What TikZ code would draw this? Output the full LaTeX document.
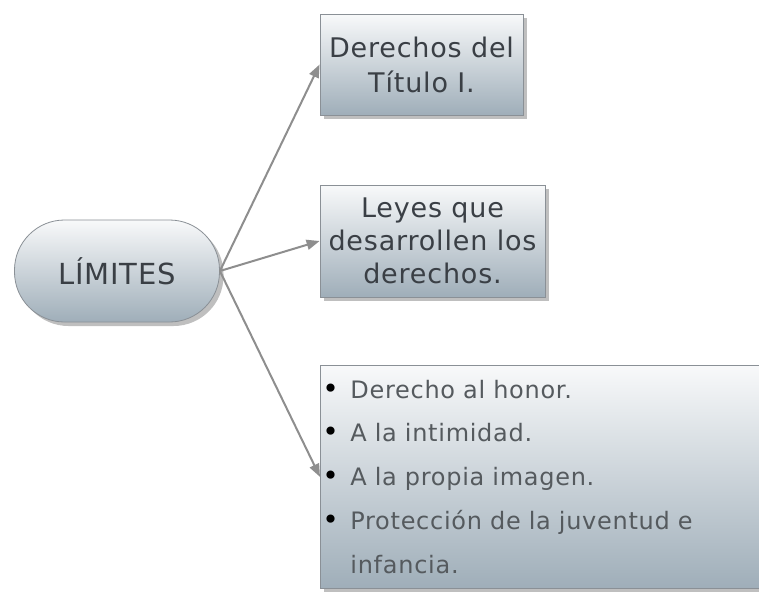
\documentclass[tikz,border=0pt]{standalone}
\usepackage{fontspec}
\setmainfont{DejaVu Sans}[LetterSpace=3]
\usetikzlibrary{shadows,arrows.meta}

\definecolor{boxtop}{HTML}{F8F9FA}
\definecolor{boxbot}{HTML}{9FAEB9}
\definecolor{edge}{HTML}{8A9096}
\definecolor{ink}{HTML}{3A3F45}
\definecolor{listink}{HTML}{555A5E}
\definecolor{linkgray}{HTML}{8E8E8E}

\tikzset{
  card/.style={draw=edge, line width=0.8pt, top color=boxtop, bottom color=boxbot,
    drop shadow={shadow xshift=4pt, shadow yshift=-4pt, fill=black!50, opacity=0.5},
    text=ink, align=center, inner sep=2pt},
  link/.style={draw=linkgray, line width=2pt, -{Triangle[length=13pt,width=10pt]}},
}
\newcommand{\dotmark}{\textcolor{black}{\fontsize{28}{27}\selectfont\textbullet}}

\begin{document}
\begin{tikzpicture}[x=1pt, y=-1pt]
% page
    \fill[white] (0,0) rectangle (759,592);
    \useasboundingbox (0,0) rectangle (759,592);
% central idea
    \node[card, rounded corners=50pt, minimum width=205pt, minimum height=102pt,
          font=\fontsize{29}{32}\selectfont] (limites) at (117,271) {LÍMITES};
% branches
    \node[card, minimum width=203pt, minimum height=101pt,
          font=\fontsize{27}{35}\selectfont] (titulo) at (421.5,64.5) {Derechos del\\Título I.};
    \node[card, minimum width=225pt, minimum height=112pt,
          font=\fontsize{27}{33}\selectfont] (leyes) at (432.5,241) {Leyes que\\desarrollen los\\derechos.};
    \node[card, anchor=north west, text width=470pt, minimum height=223pt, align=left, text=listink,
          font=\fontsize{24}{27}\selectfont] (lista) at (320,365)
        {\renewcommand{\arraystretch}{1.62}%
         \begin{tabular}{@{}p{28pt}@{}l@{}}
         \dotmark & Derecho al honor.\\
         \dotmark & A la intimidad.\\
         \dotmark & A la propia imagen.\\
         \dotmark & Protección de la juventud e\\
                  & infancia.
         \end{tabular}};
% links
    \draw[link] (limites.east) -- (titulo.west);
    \draw[link] (limites.east) -- (leyes.west);
    \draw[link] (limites.east) -- (lista.west);
\end{tikzpicture}
\end{document}
